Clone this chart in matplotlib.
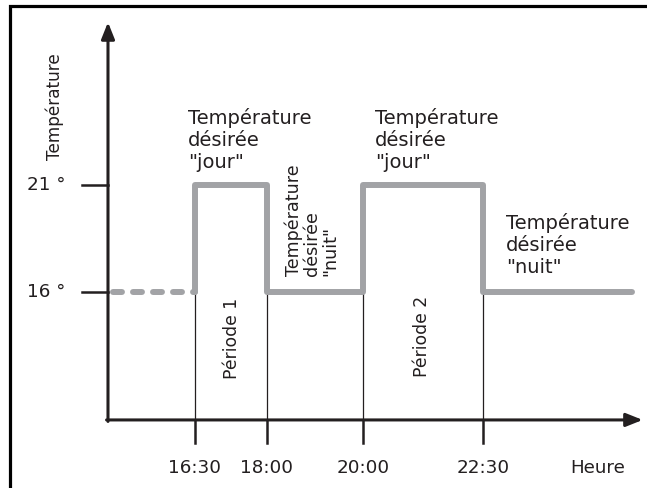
import numpy as np
import matplotlib.pyplot as plt
from matplotlib.patches import Rectangle

# Données du programme horaire
switch_times = [16.5, 18.0, 20.0, 22.5]          # heures de commutation
time_labels = ["16:30", "18:00", "20:00", "22:30"]
setpoints = [21, 16, 21, 16]                     # consigne après chaque commutation
night_temp = 16
day_temp = 21
temp_ticks = [16, 21]
temp_labels = ["16 °", "21 °"]
end_time = 25.6

GREY = "#a2a3a6"
BLACK = "#231f20"
plt.rcParams['font.family'] = ['DejaVu Sans']
FS = 13.2

fig = plt.figure(figsize=(6.47, 4.88), dpi=100)
ax = fig.add_axes([0, 0, 1, 1])
# 48 px par heure, 21.4 px par degré
ax.set_xlim(12.44, 25.92)
ax.set_ylim(6.84, 29.64)
ax.axis('off')

x0 = 14.69   # origine de l'axe horizontal
y0 = 10.02   # origine de l'axe vertical

# cadre
fig.patches.append(Rectangle((9.5 / 647, -0.02), 1.05, 1 - 6 / 488 + 0.02,
                             transform=fig.transFigure, fill=False,
                             edgecolor='black', linewidth=2.3))

# axes avec flèches
head = "-|>,head_length=1.0,head_width=0.4"
ax.annotate("", xy=(25.83, y0), xytext=(x0 - 0.03, y0),
            arrowprops=dict(arrowstyle=head, color=BLACK, lw=2.2,
                            shrinkA=0, shrinkB=0))
ax.annotate("", xy=(x0, 28.6), xytext=(x0, y0 - 0.07),
            arrowprops=dict(arrowstyle=head, color=BLACK, lw=2.2,
                            shrinkA=0, shrinkB=0))

# graduations verticales
for t, lab in zip(temp_ticks, temp_labels):
    ax.plot([x0 - 0.54, x0], [t, t], color=BLACK, lw=1.8)
    ax.text(13.4, t, lab, ha='center', va='center', fontsize=FS, color=BLACK)

# graduations horizontales et lignes verticales fines
for t, lab in zip(switch_times, time_labels):
    ax.plot([t, t], [y0, y0 - 1.07], color=BLACK, lw=1.8)
    ax.plot([t, t], [y0, night_temp], color=BLACK, lw=0.9)
    ax.text(t, y0 - 2.25, lab, ha='center', va='center', fontsize=FS, color=BLACK)

ax.text(24.9, y0 - 2.25, "Heure", ha='center', va='center', fontsize=FS, color=BLACK)
ax.text(13.58, 24.64, "Température", rotation=90, ha='center', va='center',
        fontsize=12.2, color=BLACK)

# consigne avant le début (pointillés)
dash_line, = ax.plot([x0 + 0.1, switch_times[0]], [night_temp, night_temp],
                     color=GREY, lw=4.3, solid_capstyle='round',
                     dash_capstyle='round')
dash_line.set_dashes([1.5, 1.85])

# courbe de consigne
xs = [switch_times[0]] + switch_times + [end_time]
ys = [night_temp] + setpoints + [setpoints[-1]]
ax.plot(xs, ys, drawstyle='steps-post', color=GREY, lw=4.3,
        solid_capstyle='round', solid_joinstyle='round')

# annotations
FS_NOTE = 14.0
ax.text(16.36, 24.6, 'Température\ndésirée\n"jour"', ha='left', va='top',
        fontsize=FS_NOTE, color=BLACK, linespacing=1.2)
ax.text(20.25, 24.6, 'Température\ndésirée\n"jour"', ha='left', va='top',
        fontsize=FS_NOTE, color=BLACK, linespacing=1.2)
ax.text(22.98, 19.7, 'Température\ndésirée\n"nuit"', ha='left', va='top',
        fontsize=FS_NOTE, color=BLACK, linespacing=1.2)
ax.text(18.94, 16.75, 'Température\ndésirée\n"nuit"', rotation=90, ha='center',
        va='bottom', fontsize=12.6, color=BLACK, linespacing=1.0,
        multialignment='left')
ax.text(17.27, 13.85, "Période 1", rotation=90, ha='center', va='center',
        fontsize=12.4, color=BLACK)
ax.text(21.23, 13.94, "Période 2", rotation=90, ha='center', va='center',
        fontsize=12.4, color=BLACK)

fig.savefig("out.png", dpi=100)
